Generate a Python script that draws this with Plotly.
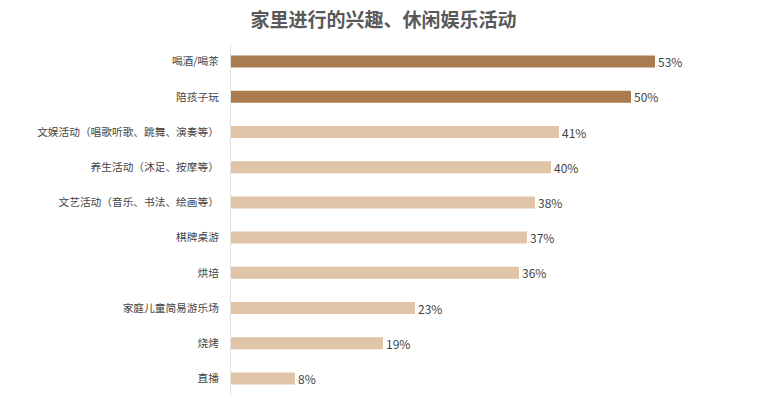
import plotly.graph_objects as go

categories = ["喝酒/喝茶", "陪孩子玩", "文娱活动（唱歌听歌、跳舞、演奏等）", "养生活动（沐足、按摩等）",
              "文艺活动（音乐、书法、绘画等）", "棋牌桌游", "烘培", "家庭儿童简易游乐场", "烧烤", "直播"]
values = [53, 50, 41, 40, 38, 37, 36, 23, 19, 8]
highlight = [True, True, False, False, False, False, False, False, False, False]

dark = "#A97B4E"
light = "#E1C4A7"
colors = [dark if h else light for h in highlight]

fig = go.Figure(go.Bar(
    x=values, y=categories, orientation="h",
    marker=dict(color=colors, line=dict(width=0)),
    width=0.34,
    text=[f"{v}%" for v in values], textposition="outside",
    textfont=dict(size=12, color="#444444"),
    constraintext="none",
    cliponaxis=False,
))

fig.update_layout(
    width=767, height=398,
    margin=dict(l=231, r=0, t=44, b=2),
    paper_bgcolor="white", plot_bgcolor="white",
    font=dict(family="Noto Sans CJK SC", color="#444444"),
    title=dict(text="<b>家里进行的兴趣、休闲娱乐活动</b>", x=0.5, xanchor="center", y=0.948, yanchor="middle",
               font=dict(size=19, color="#595959", family="Noto Sans CJK SC")),
    showlegend=False,
    bargap=0.66,
)
fig.update_xaxes(range=[0, 67], showgrid=False, zeroline=False, showticklabels=False, showline=False)
fig.update_yaxes(autorange="reversed", showgrid=False, showline=True, linecolor="#E3E3E3", linewidth=1,
                 ticks="", ticklabelstandoff=9, tickfont=dict(size=10.7, color="#444444"))

fig.write_html("out.html")
